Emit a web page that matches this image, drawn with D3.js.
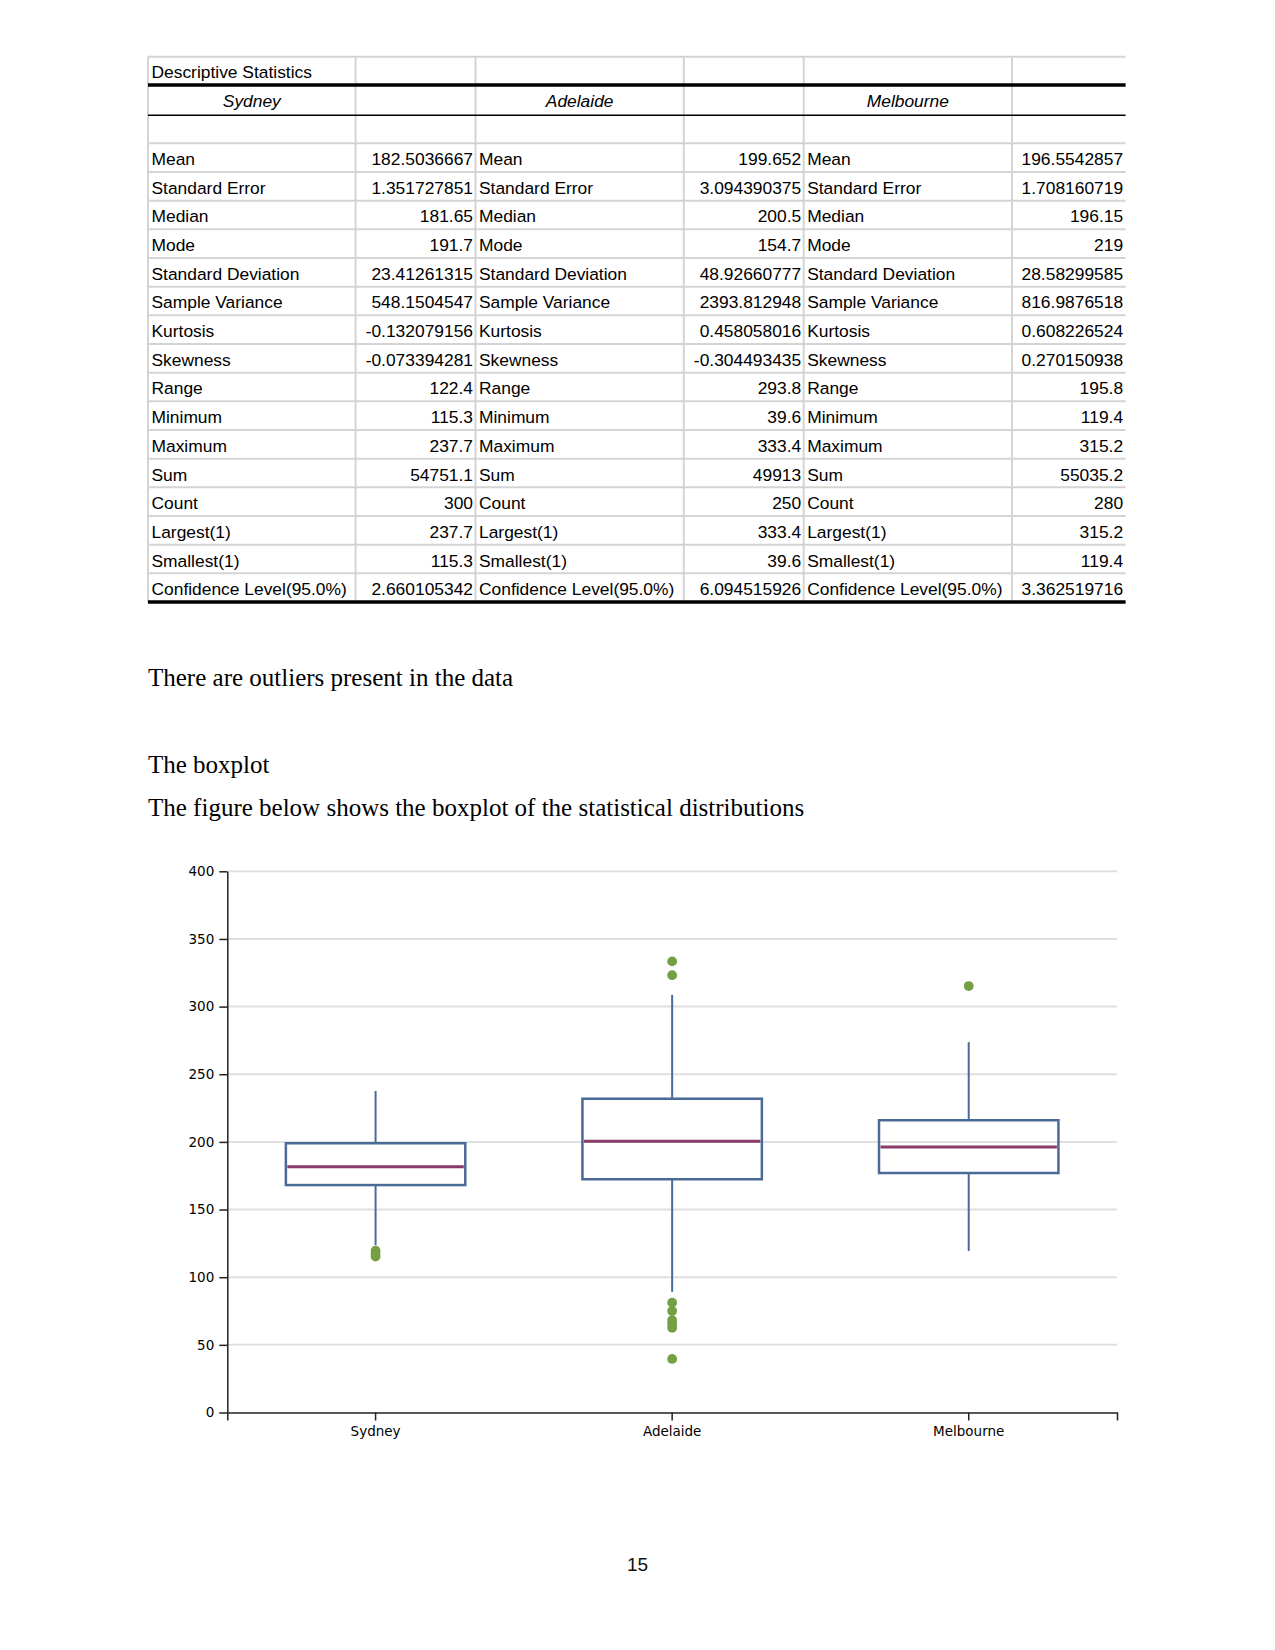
<!doctype html>
<html lang="en">
<head>
  <meta charset="UTF-8">
  <title>Descriptive statistics and boxplot</title>
  <script src="https://cdn.jsdelivr.net/npm/d3@7"></script>
  <style>
    body { margin: 0; background: #fff; }
    svg { display: block; }
  </style>
</head>
<body>
<svg width="1275" height="1650" id="page"></svg>
<script>
  // table data
  var tableTitle = 'Descriptive Statistics';
  var cities = ['Sydney', 'Adelaide', 'Melbourne'];
  var statNames = ['Mean', 'Standard Error', 'Median', 'Mode', 'Standard Deviation', 'Sample Variance',
    'Kurtosis', 'Skewness', 'Range', 'Minimum', 'Maximum', 'Sum', 'Count', 'Largest(1)', 'Smallest(1)',
    'Confidence Level(95.0%)'];
  var sydneyStats = ['182.5036667', '1.351727851', '181.65', '191.7', '23.41261315', '548.1504547',
    '-0.132079156', '-0.073394281', '122.4', '115.3', '237.7', '54751.1', '300', '237.7', '115.3', '2.660105342'];
  var adelaideStats = ['199.652', '3.094390375', '200.5', '154.7', '48.92660777', '2393.812948',
    '0.458058016', '-0.304493435', '293.8', '39.6', '333.4', '49913', '250', '333.4', '39.6', '6.094515926'];
  var melbourneStats = ['196.5542857', '1.708160719', '196.15', '219', '28.58299585', '816.9876518',
    '0.608226524', '0.270150938', '195.8', '119.4', '315.2', '55035.2', '280', '315.2', '119.4', '3.362519716'];

  var paragraphs = ['There are outliers present in the data', 'The boxplot',
    'The figure below shows the boxplot of the statistical distributions'];

  // boxplot data
  var whiskerLow = [123.7, 89.2, 119.4];
  var q1 = [168.1, 172.4, 177];
  var median = [181.65, 200.5, 196.15];
  var q3 = [199, 231.9, 216];
  var whiskerHigh = [237.7, 308.7, 273.7];
  var outliers = [
    [119.6, 117.4, 115.3],
    [333.4, 323.2, 81.2, 75, 68.3, 65.8, 62.6, 39.6],
    [315.2]
  ];
  var yTicks = [0, 50, 100, 150, 200, 250, 300, 350, 400];
  var pageNumber = '15';

  var svg = d3.select('#page');

  // ---------- table ----------
  (function () {
    var colX = [148, 355.6, 475.5, 683.8, 803.7, 1012, 1125.6];
    var top = 56.7, r1 = 85, r2 = 115.3, r3 = 143.3, rowH = 28.67;
    var bottom = r3 + rowH * statNames.length;
    var t = svg.append('g').attr('font-family', '"Liberation Sans", Arial, sans-serif')
      .attr('font-size', 17.4).attr('fill', '#000');

    var hLines = [top, r3];
    d3.range(1, statNames.length).forEach(function (i) { hLines.push(r3 + i * rowH); });
    t.selectAll('.hgrid').data(hLines).enter().append('line').attr('class', 'hgrid')
      .attr('x1', colX[0]).attr('x2', colX[6])
      .attr('y1', function (d) { return d; }).attr('y2', function (d) { return d; })
      .attr('stroke', '#d4d4d4').attr('stroke-width', 2);
    t.selectAll('.vgrid').data(colX.slice(0, 6)).enter().append('line').attr('class', 'vgrid')
      .attr('x1', function (d) { return d; }).attr('x2', function (d) { return d; })
      .attr('y1', top).attr('y2', bottom)
      .attr('stroke', '#d4d4d4').attr('stroke-width', 2);

    t.append('line').attr('x1', colX[0]).attr('x2', colX[6]).attr('y1', r1).attr('y2', r1)
      .attr('stroke', '#000').attr('stroke-width', 3.5);
    t.append('line').attr('x1', colX[0]).attr('x2', colX[6]).attr('y1', r2).attr('y2', r2)
      .attr('stroke', '#000').attr('stroke-width', 1.5);
    t.append('line').attr('x1', colX[0]).attr('x2', colX[6]).attr('y1', bottom).attr('y2', bottom)
      .attr('stroke', '#000').attr('stroke-width', 3.5);

    t.append('text').attr('x', colX[0] + 3.5).attr('y', (top + r1) / 2 + 7).text(tableTitle);

    cities.forEach(function (c, i) {
      t.append('text').attr('x', (colX[i * 2] + colX[i * 2 + 1]) / 2).attr('y', (r1 + r2) / 2 + 7)
        .attr('text-anchor', 'middle').attr('font-style', 'italic').text(c);
    });

    var cols = [sydneyStats, adelaideStats, melbourneStats];
    statNames.forEach(function (name, r) {
      var cy = r3 + rowH * r + rowH / 2 + 7.5;
      cols.forEach(function (vals, i) {
        t.append('text').attr('x', colX[i * 2] + 3.5).attr('y', cy).text(name);
        t.append('text').attr('x', colX[i * 2 + 2] - 2.5).attr('y', cy)
          .attr('text-anchor', 'end').text(vals[r]);
      });
    });
  })();

  // ---------- paragraphs ----------
  svg.selectAll('.para').data(paragraphs).enter().append('text').attr('class', 'para')
    .attr('x', 148)
    .attr('y', function (d, i) { return [686, 772.5, 815.5][i]; })
    .attr('font-family', '"Liberation Serif", "Times New Roman", serif')
    .attr('font-size', 25)
    .attr('fill', '#000')
    .text(function (d) { return d; });

  // ---------- boxplot ----------
  (function () {
    var left = 227.3, right = 1117, top = 871.3, bottom = 1412.5;
    var x = d3.scaleBand().domain(cities).range([left, right]).padding(0);
    var y = d3.scaleLinear().domain([0, 400]).range([bottom, top]);
    var boxW = x.bandwidth() * 0.605;
    var g = svg.append('g');

    g.selectAll('.grid').data(yTicks.slice(1)).enter().append('line').attr('class', 'grid')
      .attr('x1', left).attr('x2', right)
      .attr('y1', function (d) { return y(d); }).attr('y2', function (d) { return y(d); })
      .attr('stroke', '#e0e0e0').attr('stroke-width', 2);

    var yAxis = g.append('g').attr('transform', 'translate(' + left + ',0)')
      .call(d3.axisLeft(y).tickValues(yTicks).tickSize(8).tickPadding(5).tickSizeOuter(0));
    var xAxis = g.append('g').attr('transform', 'translate(0,' + bottom + ')')
      .call(d3.axisBottom(x).tickSize(8).tickSizeOuter(8).tickPadding(6));
    [yAxis, xAxis].forEach(function (a) {
      a.attr('font-family', '"DejaVu Sans", Verdana, sans-serif').attr('font-size', 13.5);
      a.select('.domain').attr('stroke', '#222').attr('stroke-width', 1.5);
      a.selectAll('.tick line').attr('stroke', '#222').attr('stroke-width', 1.5);
      a.selectAll('.tick text').attr('fill', '#000');
    });

    var idx = d3.range(cities.length);
    var cx = function (i) { return x(cities[i]) + x.bandwidth() / 2; };
    var blue = '#4a6a97';

    g.selectAll('.whisker-hi').data(idx).enter().append('line')
      .attr('x1', cx).attr('x2', cx)
      .attr('y1', function (i) { return y(q3[i]); }).attr('y2', function (i) { return y(whiskerHigh[i]); })
      .attr('stroke', blue).attr('stroke-width', 2);
    g.selectAll('.whisker-lo').data(idx).enter().append('line')
      .attr('x1', cx).attr('x2', cx)
      .attr('y1', function (i) { return y(q1[i]); }).attr('y2', function (i) { return y(whiskerLow[i]); })
      .attr('stroke', blue).attr('stroke-width', 2);
    g.selectAll('.box').data(idx).enter().append('rect')
      .attr('x', function (i) { return cx(i) - boxW / 2; })
      .attr('width', boxW)
      .attr('y', function (i) { return y(q3[i]); })
      .attr('height', function (i) { return y(q1[i]) - y(q3[i]); })
      .attr('fill', 'none').attr('stroke', blue).attr('stroke-width', 2.5);
    g.selectAll('.median').data(idx).enter().append('line')
      .attr('x1', function (i) { return cx(i) - boxW / 2 + 1.5; })
      .attr('x2', function (i) { return cx(i) + boxW / 2 - 1.5; })
      .attr('y1', function (i) { return y(median[i]); }).attr('y2', function (i) { return y(median[i]); })
      .attr('stroke', '#8a3a68').attr('stroke-width', 3);

    idx.forEach(function (i) {
      g.selectAll('.out' + i).data(outliers[i]).enter().append('circle')
        .attr('cx', cx(i)).attr('cy', function (d) { return y(d); })
        .attr('r', 4.9).attr('fill', '#74a043');
    });
  })();

  svg.append('text').attr('x', 637.5).attr('y', 1571).attr('text-anchor', 'middle')
    .attr('font-family', '"Liberation Sans", Arial, sans-serif').attr('font-size', 19)
    .attr('fill', '#111').text(pageNumber);
</script>
</body>
</html>
